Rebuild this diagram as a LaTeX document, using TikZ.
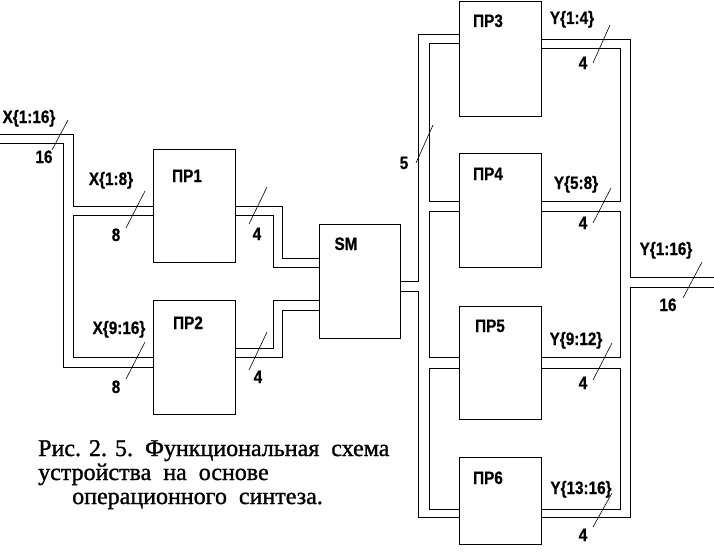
\documentclass[tikz,border=0pt]{standalone}
\usepackage{fontspec}
\usepackage{graphicx}
\setmainfont{Liberation Serif}
\setsansfont{Liberation Sans}
\newfontfamily\capfont[FakeBold=1.2]{Liberation Serif}
\newfontfamily\lblfont[FakeBold=0.8]{Liberation Sans Bold}
\newcommand\lbtxt[1]{\scalebox{0.85}[1]{#1}}
\begin{document}
\begin{tikzpicture}[x=1pt,y=-1pt,
  blk/.style={draw, line width=1pt, rectangle, inner sep=0pt, minimum width=82pt},
  bus/.style={line width=1pt},
  tick/.style={line width=0.6pt},
  lbl/.style={font=\lblfont\fontsize{18}{18}\selectfont, anchor=base, inner sep=0pt},
  captxt/.style={font=\capfont\fontsize{24}{24}\selectfont, anchor=base west, inner sep=0pt}]
\useasboundingbox (0,0) rectangle (714,551);
% blocks
\node[blk, minimum height=113pt] (p1) at (194,205.5) {};
\node[blk, minimum height=114pt] (p2) at (194,357) {};
\node[blk, minimum height=114pt, minimum width=81pt] (sm) at (359.5,281) {};
\node[blk, minimum height=114pt] (p3) at (500,59) {};
\node[blk, minimum height=114pt] (p4) at (500,210) {};
\node[blk, minimum height=113pt] (p5) at (500,362.5) {};
\node[blk, minimum height=87pt] (p6) at (500,500.5) {};
% free ends
\coordinate (xa) at (0,134);
\coordinate (xb) at (0,143);
\coordinate (ya) at (714,277);
\coordinate (yb) at (714,287);
% input bus
\draw[bus] (xa) -| (73,206) -- ([yshift=-0.5pt]p1.west);
\draw[bus] (xb) -| (63,367) -- ([yshift=-10pt]p2.west);
\draw[bus] ([yshift=-9.5pt]p1.west) -| (73,357) -- (p2.west);
% to SM
\draw[bus] ([yshift=-0.5pt]p1.east) -| (282,258) -- ([yshift=23pt]sm.west);
\draw[bus] ([yshift=-9.5pt]p1.east) -| (273,267) -- ([yshift=14pt]sm.west);
\draw[bus] ([yshift=9pt]p2.east) -| (273,300) -- ([yshift=-19pt]sm.west);
\draw[bus] (p2.east) -| (282,310) -- ([yshift=-29pt]sm.west);
% distribution
\draw[bus] (sm.east) -| (418,35) -- ([yshift=24pt]p3.west);
\draw[bus] ([yshift=-10pt]sm.east) -| (418,517) -- ([yshift=-16.5pt]p6.west);
\draw[bus] ([yshift=15pt]p3.west) -| (429,201) -- ([yshift=9pt]p4.west);
\draw[bus] ([yshift=-1pt]p4.west) -| (429,357) -- ([yshift=5.5pt]p5.west);
\draw[bus] ([yshift=-5.5pt]p5.west) -| (429,509) -- ([yshift=-8.5pt]p6.west);
% output collection
\draw[bus] ([yshift=19pt]p3.east) -| (630,277) -- (ya);
\draw[bus] ([yshift=10pt]p3.east) -| (620,201) -- ([yshift=9pt]p4.east);
\draw[bus] ([yshift=-1pt]p4.east) -| (620,357) -- ([yshift=5.5pt]p5.east);
\draw[bus] ([yshift=-5.5pt]p5.east) -| (620,509) -- ([yshift=-8.5pt]p6.east);
\draw[bus] ([yshift=-16.5pt]p6.east) -| (630,287) -- (yb);
% bus width ticks
\draw[tick] (68,120) -- (52,150);
\draw[tick] (145,191) -- (126,228);
\draw[tick] (267,187) -- (249,224);
\draw[tick] (145,342) -- (126,379);
\draw[tick] (267,332) -- (249,370);
\draw[tick] (433,125) -- (416,163);
\draw[tick] (610,25) -- (593,63);
\draw[tick] (611,188) -- (593,223);
\draw[tick] (612,343) -- (593,380);
\draw[tick] (612,493) -- (593,527);
\draw[tick] (702,262) -- (683,298);
% labels
\node[lbl] (lx) at (29,123) {\lbtxt{X\{1:16\}}};
\node[lbl] (lx16) at (44,163) {\lbtxt{16}};
\node[lbl] (lx1) at (111,185) {\lbtxt{X\{1:8\}}};
\node[lbl] (l8a) at (116,241) {\lbtxt{8}};
\node[lbl] (lp1) at (187,182) {\lbtxt{ПР1}};
\node[lbl] (l4a) at (257,240) {\lbtxt{4}};
\node[lbl] (lp2) at (188,329) {\lbtxt{ПР2}};
\node[lbl] (lx2) at (119,334) {\lbtxt{X\{9:16\}}};
\node[lbl] (l8b) at (116,393) {\lbtxt{8}};
\node[lbl] (l4b) at (258,383) {\lbtxt{4}};
\node[lbl] (lsm) at (346,250) {\lbtxt{SM}};
\node[lbl] (lp3) at (488,27) {\lbtxt{ПР3}};
\node[lbl] (ly1) at (572,24) {\lbtxt{Y\{1:4\}}};
\node[lbl] (l4c) at (583,69) {\lbtxt{4}};
\node[lbl] (l5) at (404,169) {\lbtxt{5}};
\node[lbl] (lp4) at (488,180) {\lbtxt{ПР4}};
\node[lbl] (ly2) at (576,189) {\lbtxt{Y\{5:8\}}};
\node[lbl] (l4d) at (583,229) {\lbtxt{4}};
\node[lbl] (lp5) at (490,332) {\lbtxt{ПР5}};
\node[lbl] (ly3) at (576,345) {\lbtxt{Y\{9:12\}}};
\node[lbl] (l4e) at (583,389) {\lbtxt{4}};
\node[lbl] (lp6) at (488,484) {\lbtxt{ПР6}};
\node[lbl] (ly4) at (581,494) {\lbtxt{Y\{13:16\}}};
\node[lbl] (l4f) at (583,541) {\lbtxt{4}};
\node[lbl] (ly) at (666,255) {\lbtxt{Y\{1:16\}}};
\node[lbl] (ly16) at (668,311) {\lbtxt{16}};
% caption
\node[captxt] (c1) at (38,456) {Рис. 2. 5.\ \ Функциональная\ \ схема};
\node[captxt] (c2) at (38,480) {устройства\ \ на\ \ основе};
\node[captxt] (c3) at (72,504) {операционного\ \ синтеза.};
\end{tikzpicture}
\end{document}
